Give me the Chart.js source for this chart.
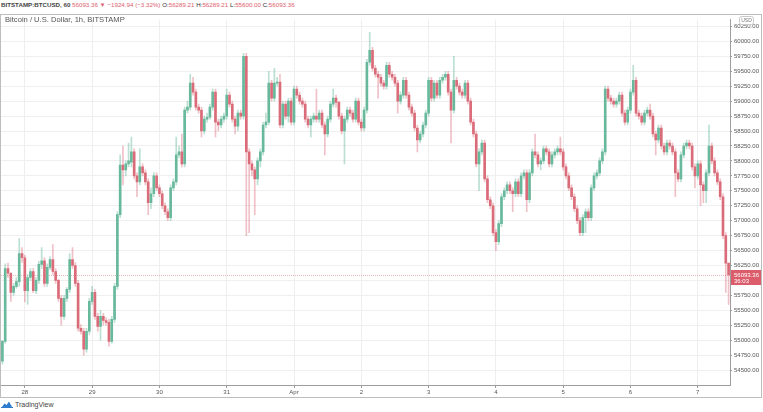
<!DOCTYPE html>
<html>
<head>
<meta charset="utf-8">
<script src="https://cdn.jsdelivr.net/npm/chart.js@4.4.1/dist/chart.umd.min.js"></script>
<style>
  html, body { margin: 0; padding: 0; background: #fff; }
  body { width: 763px; height: 412px; position: relative; overflow: hidden; font-family: "Liberation Sans", Arial, sans-serif; }
  #header { position: absolute; left: 1px; top: 1px; font-size: 6.2px; color: #333; white-space: nowrap; }
  #header .r { color: #e0606d; }
  #header .b { font-weight: bold; color: #444; }
  #title { position: absolute; left: 5px; top: 15px; font-size: 7.6px; color: #555; white-space: nowrap; }
  #wrap { position: absolute; left: 0; top: 14px; width: 762px; height: 384px; }
  #footer { position: absolute; left: 1px; top: 400px; font-size: 7px; color: #444; display: flex; align-items: center; }
  #footer svg { margin-right: 2px; }
</style>
</head>
<body>
<div id="header"><span class="b">BITSTAMP:BTCUSD, 60</span> <span class="r">56093.36 ▼ −1924.94 (−3.32%)</span> O:<span class="r">56289.21</span> H:<span class="r">56289.21</span> L:<span class="r">55600.00</span> C:<span class="r">56093.36</span></div>
<div id="wrap"><canvas id="chart"></canvas></div>
<div id="title">Bitcoin / U.S. Dollar, 1h, BITSTAMP</div>
<div id="footer">
  <svg width="12" height="8" viewBox="0 0 12 8"><path d="M1 7 L3.5 3.5 L5.5 5 L8 1.5 L11 7 Z" fill="#2f7bd0"/><path d="M0 7.5 H12" stroke="#2f7bd0" stroke-width="1"/></svg>
  <span>TradingView</span>
</div>
<script>
// --- CANDLE DATA (BTCUSD 1h, Mar 27 16:00 -> Apr 7 11:00) ---
const opens = [
  54650,54980,56200,56120,55800,55900,55980,56450,56380,55830,
  56050,56150,55830,56000,56270,56330,55950,56220,56350,56150,
  56000,55700,55400,55700,55850,56350,56250,55950,55200,55150,
  54850,55150,55650,55800,55400,55230,55400,55330,55300,54980,
  55350,55900,57100,57930,57850,57950,57980,58150,57750,57650,
  57900,57800,57650,57300,57450,57750,57550,57450,57250,57150,
  57050,57550,57650,58100,58150,57950,58850,58900,59300,59150,
  58900,58850,58500,58700,58730,58900,59150,58650,58600,58700,
  58750,59100,58950,58700,58580,58800,58750,59750,58150,57950,
  57850,57700,58000,58150,58600,58650,59300,59050,59300,59320,
  58600,58950,58750,59000,58650,59200,59100,59000,58950,58700,
  58600,58700,58750,58700,58800,58600,58450,58700,58950,59050,
  58980,58750,58500,58700,58850,58800,58700,59000,58650,58550,
  58850,59650,59850,59550,59450,59400,59300,59250,59600,59450,
  59400,59300,59000,59100,59350,59100,58900,58800,58550,58350,
  58450,58600,58800,59350,59050,59300,59100,59350,59400,59450,
  59150,58850,59350,59250,59150,59100,59300,59000,58650,58450,
  57950,58150,58300,57700,57350,57250,56800,56650,56950,57400,
  57500,57600,57500,57450,57650,57450,57750,57800,57350,57800,
  58150,58100,57950,58000,58200,58150,57950,58100,58150,58200,
  58150,57900,57750,57550,57400,57200,57000,56800,57050,57150,
  57050,57550,57750,57800,58000,58150,59200,59050,59000,58950,
  59000,59100,58800,58650,58850,59150,59350,58800,58750,58650,
  58800,58850,58750,58450,58350,58550,58250,58150,58300,58250,
  58150,57800,57700,58100,58250,58300,58250,57900,57750,57950,
  57600,57500,57800,58250,58000,57800,57650,57400,56750,56289.21
];
const highs = [
  55000,56280,56290,56130,55950,56050,56700,56550,56420,56100,
  56200,56200,56050,56320,56550,56380,56280,56400,56600,56200,
  56020,55750,55750,55880,56450,56550,56300,56000,55260,55200,
  55200,55700,55900,55850,55450,55500,55450,55380,55350,55400,
  55950,57150,58100,58250,58000,58300,58400,58200,57800,58200,
  57950,57850,57700,57550,57800,57800,57600,57500,57300,57200,
  57600,57700,58400,58250,58450,58900,59000,59450,59400,59200,
  58950,58900,58750,58800,58950,59200,59200,58700,58750,58800,
  59200,59150,59000,58750,58850,58850,59800,59800,58200,58000,
  57900,58050,58200,58650,58800,59500,59350,59550,59400,59450,
  59000,59000,59050,59050,59250,59250,59150,59050,59000,58750,
  58750,58800,59200,58850,58850,58650,58750,59000,59200,59100,
  59000,58800,58750,58900,58900,58850,59050,59050,58700,58900,
  59700,60150,59900,59600,59500,59450,59350,59650,59650,59500,
  59450,59350,59150,59400,59400,59150,58950,58850,58600,58500,
  58650,58850,59400,59400,59350,59350,59400,59450,59500,59500,
  59200,59750,59400,59300,59200,59350,59350,59050,58700,58500,
  58200,58350,58350,57750,57400,57300,56850,57000,57450,57550,
  57650,57650,57550,57700,57700,57800,57850,57850,57850,58200,
  58450,58150,58050,58250,58250,58200,58150,58200,58250,58400,
  58200,57950,57800,57600,57450,57250,57050,57100,57200,57200,
  57600,57800,57850,58050,58200,59250,59250,59100,59050,59050,
  59150,59150,58850,58900,59200,59600,59400,58850,58800,58850,
  58900,58950,58800,58500,58600,58600,58300,58350,58350,58300,
  58200,57850,58150,58300,58350,58350,58300,57950,58000,58000,
  57650,57850,58600,58300,58050,57850,57700,57450,56800,56289.21
];
const lows = [
  54600,54950,56050,55650,55750,55870,55900,56300,55640,55600,
  56000,55800,55780,55950,56200,55900,55900,56180,56100,55950,
  55650,55250,55350,55650,55800,56200,55900,55150,55100,54750,
  54800,55100,55600,55350,55150,55000,55250,55250,54900,54950,
  55300,55850,57050,57600,57750,57900,57900,57700,57400,57600,
  57750,57600,57100,57200,57400,57500,57400,57200,57100,57000,
  57000,57500,57600,58050,57900,57900,58800,58850,59100,58850,
  58800,58400,58450,58650,58700,58850,58400,58500,58550,58650,
  58700,58900,58650,58450,58500,58700,58700,56750,56800,57750,
  57100,57600,57900,58100,58550,58600,59000,59000,59250,58550,
  58550,58700,58650,58600,58600,59050,58950,58900,58650,58550,
  58400,58650,58650,58650,58550,58100,58400,58650,58900,58900,
  58700,58450,57950,58650,58750,58650,58650,58600,58500,58500,
  58800,59600,59500,59400,59050,59250,59200,59200,59400,59350,
  59250,58800,58950,59050,59050,58850,58750,58500,58150,58300,
  58400,58550,58750,59000,59000,59050,59050,59300,59350,59100,
  58300,58800,59200,59100,59050,59050,58950,58600,58400,57900,
  57500,58100,57650,57300,57200,56750,56500,56600,56900,57350,
  57450,57450,57150,57400,57400,57400,57700,57150,57300,57750,
  58050,57900,57850,57950,58100,57900,57900,58050,58100,58100,
  57850,57700,57500,57350,57150,56950,56750,56750,56800,57000,
  57000,57500,57700,57750,57950,58100,59000,58950,58900,58900,
  58950,58750,58600,58600,58800,59100,58750,58700,58600,58600,
  58750,58700,58400,58100,58300,58200,58100,58100,58200,58100,
  57400,57650,57650,58050,58200,58200,57850,57550,57700,57250,
  57300,57300,57750,57950,57750,57600,57350,56700,55800,55600
];
const closes = [
  54980,56200,56120,55800,55900,55980,56450,56380,55830,56050,
  56150,55830,56000,56270,56330,55950,56220,56350,56150,56000,
  55700,55400,55700,55850,56350,56250,55950,55200,55150,54850,
  55150,55650,55800,55400,55230,55400,55330,55300,54980,55350,
  55900,57100,57930,57850,57950,58000,58150,57750,57650,57900,
  57800,57650,57300,57450,57750,57550,57450,57250,57150,57050,
  57550,57650,58100,58150,57950,58850,58900,59300,59150,58900,
  58850,58500,58700,58730,58900,59150,58650,58600,58700,58750,
  59100,58950,58700,58580,58800,58750,59750,58150,57950,57850,
  57700,58000,58150,58600,58650,59300,59050,59300,59320,58600,
  58950,58750,59000,58650,59200,59100,59000,58950,58700,58600,
  58700,58750,58700,58800,58600,58450,58700,58950,59050,58980,
  58750,58500,58700,58850,58800,58700,59000,58650,58550,58850,
  59650,59850,59550,59450,59400,59300,59250,59600,59450,59400,
  59300,59000,59100,59350,59100,58900,58800,58550,58350,58450,
  58600,58800,59350,59050,59300,59100,59350,59400,59450,59150,
  58850,59350,59250,59150,59100,59300,59000,58650,58450,57950,
  58150,58300,57700,57350,57250,56800,56650,56950,57400,57500,
  57600,57500,57450,57650,57450,57750,57800,57350,57800,58150,
  58100,57950,58000,58200,58150,57950,58100,58150,58200,58150,
  57900,57750,57550,57400,57200,57000,56800,57050,57150,57050,
  57550,57750,57800,58000,58150,59200,59050,59000,58950,59000,
  59100,58800,58650,58850,59150,59350,58800,58750,58650,58800,
  58850,58750,58450,58350,58550,58250,58150,58300,58250,58150,
  57800,57700,58100,58250,58300,58250,57900,57750,57950,57600,
  57500,57800,58250,58000,57800,57650,57400,56750,56289.21,56093.36
];

// x-axis day labels (shown at each midnight candle)
const dayLabels = ['28', '29', '30', '31', 'Apr', '2', '3', '4', '5', '6', '7'];
const firstMidnight = 8;       // index of Mar 28 00:00
const lastPrice = 56093.36;
const countdown = '36:03';

const UP = '#68b99c';
const DOWN = '#da6c79';
const UP_WICK = 'rgba(104,185,156,0.45)';
const DOWN_WICK = 'rgba(218,108,121,0.42)';

// hourly categories
const start = Date.UTC(2021, 2, 27, 16);
const hours = opens.map((_, i) => new Date(start + i * 3600000).toISOString().slice(5, 13));

const isMidnight = (i) => i >= firstMidnight && (i - firstMidnight) % 24 === 0;
const isUp = (i) => closes[i] >= opens[i];

// --- OVERLAY: frame, last price line + label, USD badge ---
const overlay = {
  id: 'overlay',
  beforeDatasetsDraw(chart) {
    const { ctx, chartArea, scales } = chart;
    const y = scales.y.getPixelForValue(lastPrice);
    ctx.save();
    ctx.strokeStyle = 'rgba(214,95,110,0.45)';
    ctx.lineWidth = 1;
    ctx.setLineDash([1, 1]);
    ctx.beginPath();
    ctx.moveTo(chartArea.left, Math.round(y) + 0.5);
    ctx.lineTo(chartArea.right, Math.round(y) + 0.5);
    ctx.stroke();
    ctx.restore();
  },
  afterDraw(chart) {
    const { ctx, chartArea, scales, width, height } = chart;
    const y = scales.y.getPixelForValue(lastPrice);
    ctx.save();
    // price label box
    ctx.fillStyle = '#db5d6b';
    ctx.fillRect(chartArea.right + 1, Math.round(y) - 5, width - chartArea.right - 2, 15);
    ctx.fillStyle = '#fff';
    ctx.font = '6px "Liberation Sans", Arial, sans-serif';
    ctx.textBaseline = 'middle';
    ctx.textAlign = 'left';
    ctx.fillText(lastPrice.toFixed(2), chartArea.right + 4, Math.round(y) + 0.5);
    ctx.fillText(countdown, chartArea.right + 4, Math.round(y) + 6.5);
    // USD badge
    ctx.fillStyle = '#fff';
    ctx.strokeStyle = '#c9c9c9';
    ctx.lineWidth = 1;
    ctx.beginPath();
    ctx.roundRect(739.5, 2.5, 14, 8, 2);
    ctx.fill();
    ctx.stroke();
    ctx.fillStyle = '#777';
    ctx.font = '5px "Liberation Sans", Arial, sans-serif';
    ctx.textAlign = 'center';
    ctx.fillText('USD', 746.5, 6.8);
    // outer frame
    ctx.strokeStyle = '#bdbdbd';
    ctx.strokeRect(0.5, 0.5, width - 1, height - 1);
    ctx.restore();
  }
};

new Chart(document.getElementById('chart'), {
  type: 'bar',
  data: {
    labels: hours,
    datasets: [
      {
        label: 'body',
        data: opens.map((o, i) => [o, closes[i]]),
        backgroundColor: (c) => isUp(c.dataIndex) ? UP : DOWN,
        barThickness: 2,
        minBarLength: 1,
        grouped: false,
        order: 0
      },
      {
        label: 'wick',
        data: lows.map((l, i) => [l, highs[i]]),
        backgroundColor: (c) => isUp(c.dataIndex) ? UP_WICK : DOWN_WICK,
        barThickness: 1,
        grouped: false,
        order: 1
      }
    ]
  },
  options: {
    responsive: true,
    maintainAspectRatio: false,
    animation: false,
    layout: { padding: { left: 1, top: 1, right: 0, bottom: 0 } },
    plugins: { legend: { display: false }, tooltip: { enabled: false } },
    scales: {
      x: {
        offset: true,
        afterFit: (s) => { s.height = 13; },
        grid: {
          offset: false,
          drawTicks: true,
          tickLength: 3,
          color: (c) => isMidnight(c.index) ? '#eeeeee' : 'rgba(0,0,0,0)',
          tickColor: (c) => isMidnight(c.index) ? '#999' : 'rgba(0,0,0,0)'
        },
        border: { color: '#9e9e9e' },
        ticks: {
          autoSkip: false,
          maxRotation: 0,
          padding: 1,
          color: '#555',
          font: { size: 6, family: '"Liberation Sans", Arial, sans-serif' },
          callback: (v, i) => isMidnight(i) ? dayLabels[(i - firstMidnight) / 24] : ''
        }
      },
      y: {
        position: 'right',
        min: 54251,
        max: 60364,
        afterFit: (s) => { s.width = 32; },
        grid: { color: '#efefef', tickLength: 2, tickColor: '#999' },
        border: { color: '#9e9e9e' },
        ticks: {
          stepSize: 250,
          includeBounds: false,
          autoSkip: false,
          padding: 2,
          color: '#555',
          font: { size: 6, family: '"Liberation Sans", Arial, sans-serif' },
          callback: (v) => v.toFixed(2)
        }
      }
    }
  },
  plugins: [overlay]
});
</script>
</body>
</html>
